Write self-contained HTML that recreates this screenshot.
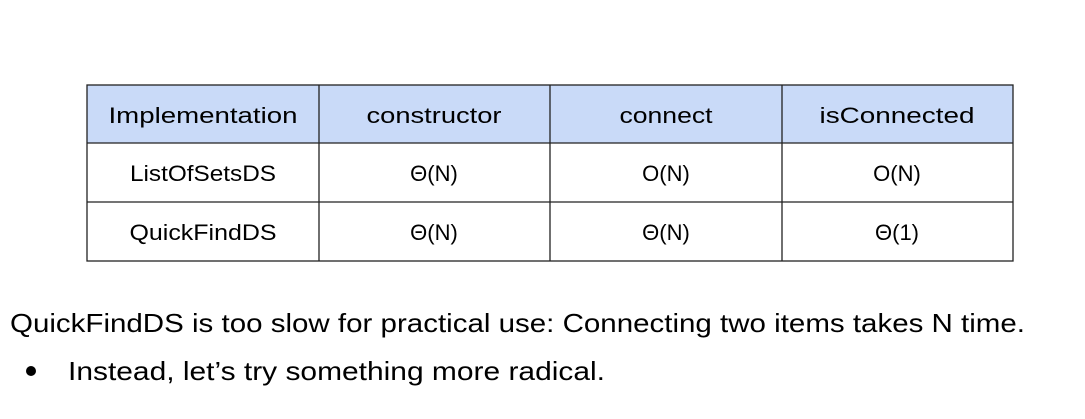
<!DOCTYPE html>
<html><head><meta charset="utf-8"><style>
html,body{margin:0;padding:0;background:#fff;}
svg{display:block;}
text{font-family:"Liberation Sans",sans-serif;fill:#000;}
</style></head><body>
<svg width="1085" height="419" viewBox="0 0 1085 419">
<rect x="87" y="85" width="926" height="58" fill="#c9daf8"/>
<g stroke="#222" stroke-width="1.3" fill="none">
<rect x="87" y="85" width="926" height="176"/>
<line x1="87" y1="143" x2="1013" y2="143"/>
<line x1="87" y1="202" x2="1013" y2="202"/>
<line x1="319" y1="85" x2="319" y2="261"/>
<line x1="550" y1="85" x2="550" y2="261"/>
<line x1="782" y1="85" x2="782" y2="261"/>
</g>
<g font-size="22" text-anchor="middle">
<text x="203" y="123" textLength="189" lengthAdjust="spacingAndGlyphs">Implementation</text>
<text x="434" y="123" textLength="135" lengthAdjust="spacingAndGlyphs">constructor</text>
<text x="666" y="123" textLength="93" lengthAdjust="spacingAndGlyphs">connect</text>
<text x="897" y="123" textLength="155" lengthAdjust="spacingAndGlyphs">isConnected</text>
<text x="203" y="181" textLength="146" lengthAdjust="spacingAndGlyphs">ListOfSetsDS</text>
<text x="434" y="181">Θ(N)</text>
<text x="666" y="181">O(N)</text>
<text x="897" y="181">O(N)</text>
<text x="203" y="240" textLength="147" lengthAdjust="spacingAndGlyphs">QuickFindDS</text>
<text x="434" y="240">Θ(N)</text>
<text x="666" y="240">Θ(N)</text>
<text x="897" y="240">Θ(1)</text>
</g>
<text x="10" y="332" font-size="26" textLength="1015" lengthAdjust="spacingAndGlyphs">QuickFindDS is too slow for practical use: Connecting two items takes N time.</text>
<circle cx="31" cy="371" r="5" fill="#000"/>
<text x="68" y="380" font-size="26" textLength="537" lengthAdjust="spacingAndGlyphs">Instead, let’s try something more radical.</text>
</svg>
</body></html>
